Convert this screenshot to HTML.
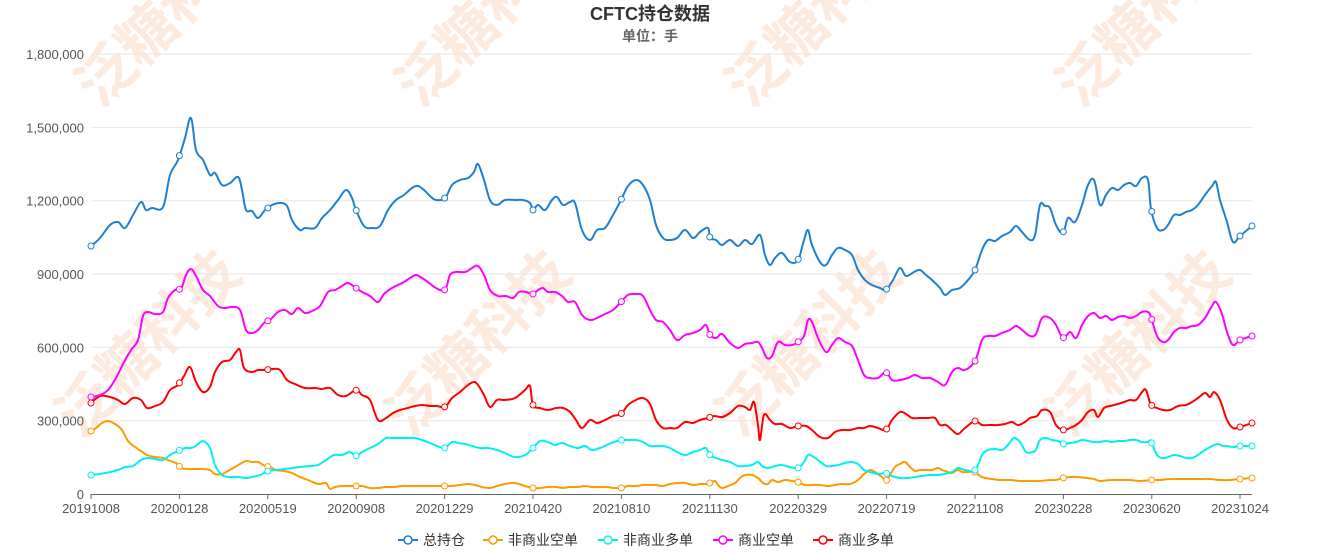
<!DOCTYPE html>
<html><head><meta charset="utf-8">
<style>
html,body{margin:0;padding:0;background:#fff;}
body{width:1339px;height:555px;overflow:hidden;position:relative;font-family:"Liberation Sans","Noto Sans CJK SC",sans-serif;}
svg{position:absolute;left:0;top:0;}
</style></head><body>
<svg id="s" width="1339" height="555" xmlns="http://www.w3.org/2000/svg">
<g font-family="Liberation Sans, Noto Sans CJK SC, sans-serif" fill="#f9d9c4" opacity="0.55" font-size="58" font-weight="bold">
<text transform="translate(100,110) rotate(-45)">泛糖科技</text>
<text transform="translate(420,110) rotate(-45)">泛糖科技</text>
<text transform="translate(750,110) rotate(-45)">泛糖科技</text>
<text transform="translate(1080,110) rotate(-45)">泛糖科技</text>
<text transform="translate(80,440) rotate(-45)">泛糖科技</text>
<text transform="translate(410,440) rotate(-45)">泛糖科技</text>
<text transform="translate(740,440) rotate(-45)">泛糖科技</text>
<text transform="translate(1070,440) rotate(-45)">泛糖科技</text>
</g>
<g id="grid" stroke="#e6e6e6" stroke-width="1"></g>
<line x1="91" y1="494.5" x2="1252" y2="494.5" stroke="#666" stroke-width="1"/>
<g id="ylab" font-size="13" fill="#555" text-anchor="end" font-family="Liberation Sans, sans-serif"></g>
<g id="xlab" font-size="13" fill="#555" text-anchor="middle" font-family="Liberation Sans, sans-serif"></g>
<g id="series"></g>
<text x="650" y="20" text-anchor="middle" font-size="18" font-weight="bold" fill="#333">CFTC持仓数据</text>
<text x="650" y="41" text-anchor="middle" font-size="14" font-weight="bold" fill="#666">单位：手</text>
<g id="legend" font-size="14" fill="#333"></g>
</svg>
<script>
var NS="http://www.w3.org/2000/svg";
function el(t,a,p){var e=document.createElementNS(NS,t);for(var k in a)e.setAttribute(k,a[k]);p.appendChild(e);return e;}
var grid=document.getElementById('grid'),yl=document.getElementById('ylab'),xl=document.getElementById('xlab');
var yv=["0","300,000","600,000","900,000","1,200,000","1,500,000","1,800,000"];
for(var i=0;i<7;i++){var y=494-i*73.33;if(i>0)el('line',{x1:91,x2:1252,y1:y.toFixed(1),y2:y.toFixed(1)},grid);var t=el('text',{x:84,y:y+5},yl);t.textContent=yv[i];}
var xs=["20191008","20200128","20200519","20200908","20201229","20210420","20210810","20211130","20220329","20220719","20221108","20230228","20230620","20231024"];
var tickX=[];for(var i=0;i<14;i++){var x=91+i*88.4;if(i==13)x=1240;tickX.push(x);el('line',{x1:x,x2:x,y1:494,y2:499,stroke:'#666'},grid);var t=el('text',{x:x,y:513},xl);t.textContent=xs[i];}
function P(s){var a=s.trim().split(/;\s*/),r=[];a.forEach(function(p){var q=p.split(',');r.push([+q[0],+q[1]]);});return r;}
var D={
blue:P("91,246; 100,238; 110,225; 118,222; 125,228; 133,215; 141,202; 146,210; 152,208; 163,207; 170,175; 178,160; 185,138; 191,118; 196,150; 203,160; 210,175; 215,173; 222,185; 230,183; 238,177; 242,190; 246,210; 252,211; 258,218; 265,210; 272,205; 280,203; 287,206; 292,220; 300,230; 305,228; 315,228; 322,218; 330,210; 338,200; 346,190; 352,198; 356,210; 364,226; 372,228; 380,226; 388,210; 396,200; 404,195; 412,188; 418,186; 424,190; 430,196; 436,200; 445,198; 452,185; 460,180; 468,178; 474,172; 478,164; 484,180; 490,200; 497,205; 505,200; 515,200; 523,200; 530,203; 533,210; 538,205; 545,210; 552,200; 557,197; 563,205; 570,202; 575,203; 582,230; 590,240; 597,230; 605,228; 613,215; 621,200; 628,186; 636,180; 643,185; 650,200; 656,225; 663,238; 670,240; 677,238; 685,230; 693,238; 700,232; 708,228; 710,238; 716,240; 722,245; 730,240; 738,246; 745,240; 752,244; 760,235; 765,255; 770,265; 775,258; 782,253; 790,262; 798,260; 804,240; 808,230; 812,245; 820,262; 826,265; 832,255; 838,248; 845,250; 852,255; 858,270; 865,280; 872,285; 880,288; 886,290; 893,280; 900,268; 906,276; 914,272; 920,270; 926,275; 932,280; 940,288; 945,295; 952,290; 960,288; 968,280; 975,270; 982,250; 988,240; 995,241; 1002,236; 1010,232; 1016,226; 1022,232; 1030,240; 1035,235; 1040,205; 1045,206; 1050,208; 1056,225; 1063,233; 1068,218; 1075,222; 1082,205; 1088,185; 1094,180; 1100,205; 1106,195; 1112,188; 1118,190; 1124,185; 1130,183; 1136,186; 1142,178; 1148,180; 1151,209; 1157,228; 1163,230; 1168,225; 1174,215; 1180,215; 1186,212; 1192,210; 1198,205; 1205,195; 1212,186; 1216,182; 1220,200; 1227,222; 1233,242; 1240,236; 1252,226"),
mag:P("91,397; 100,395; 108,390; 116,378; 124,362; 131,350; 138,340; 143,316; 148,312; 155,314; 163,312; 168,298; 175,290; 181,289; 186,275; 191,269; 196,276; 203,290; 210,296; 218,306; 225,308; 232,307; 240,310; 246,330; 252,333; 258,330; 265,322; 270,320; 278,312; 285,310; 292,314; 298,308; 305,313; 312,311; 320,306; 328,292; 335,290; 342,286; 348,283; 356,288; 362,292; 370,296; 378,302; 384,294; 392,288; 398,285; 404,282; 410,278; 416,275; 422,278; 428,282; 436,288; 445,290; 450,275; 456,272; 465,272; 472,268; 478,266; 484,275; 490,290; 498,296; 506,296; 513,298; 519,292; 526,292; 533,294; 538,290; 543,288; 548,292; 555,292; 562,296; 568,302; 575,302; 582,315; 590,320; 597,318; 605,314; 613,310; 621,302; 628,295; 636,294; 643,296; 650,310; 656,320; 663,322; 670,330; 677,340; 685,335; 693,333; 700,330; 706,325; 710,335; 716,338; 722,334; 730,343; 738,348; 745,344; 752,343; 758,342; 762,348; 767,358; 772,356; 778,342; 785,345; 792,345; 798,342; 804,336; 808,320; 812,322; 818,338; 826,352; 832,345; 838,338; 845,342; 852,346; 858,360; 864,375; 870,378; 878,378; 886,372; 892,380; 900,380; 908,378; 915,375; 922,378; 930,378; 938,382; 945,385; 952,372; 958,368; 965,370; 975,361; 982,340; 988,336; 995,336; 1002,333; 1010,330; 1016,326; 1022,330; 1030,336; 1036,334; 1042,318; 1050,318; 1056,325; 1063,338; 1070,332; 1076,338; 1082,325; 1088,316; 1094,313; 1100,318; 1106,316; 1112,320; 1118,317; 1124,316; 1130,318; 1136,316; 1142,312; 1148,312; 1151,317; 1157,336; 1163,342; 1168,340; 1174,332; 1180,328; 1186,328; 1192,326; 1198,325; 1205,318; 1212,306; 1216,302; 1222,314; 1227,332; 1233,345; 1240,340; 1252,336"),
red:P("91,403; 100,396; 110,397; 118,400; 125,404; 133,398; 141,400; 147,408; 155,406; 163,402; 170,390; 178,385; 184,376; 190,367; 196,382; 203,392; 210,387; 215,372; 222,362; 230,360; 236,352; 240,350; 244,368; 252,372; 258,370; 265,370; 272,369; 280,370; 287,380; 295,384; 305,388; 315,388; 322,389; 330,388; 338,395; 346,396; 356,390; 362,395; 370,400; 378,420; 386,418; 393,413; 400,410; 408,408; 415,406; 422,405; 430,406; 437,406; 445,407; 452,398; 460,392; 468,385; 474,382; 478,385; 484,395; 490,407; 497,400; 505,400; 515,398; 525,390; 530,386; 533,405; 540,408; 548,410; 556,408; 563,408; 570,412; 576,420; 582,428; 590,420; 597,423; 605,420; 613,416; 621,414; 628,405; 636,400; 643,398; 650,404; 656,420; 663,428; 670,428; 677,428; 685,422; 693,423; 700,420; 708,418; 714,416; 722,417; 730,413; 738,406; 745,407; 750,410; 754,402; 758,425; 760,440; 764,415; 770,420; 775,424; 782,424; 790,428; 798,426; 806,426; 812,430; 820,437; 828,438; 835,432; 842,430; 850,430; 858,428; 864,428; 870,426; 878,428; 886,430; 892,420; 900,412; 906,414; 912,418; 920,418; 928,418; 935,418; 940,425; 946,425; 952,430; 958,434; 965,428; 975,421; 982,425; 990,425; 998,425; 1005,424; 1012,422; 1018,425; 1025,422; 1030,418; 1037,416; 1042,410; 1050,412; 1056,425; 1063,430; 1070,428; 1076,425; 1082,420; 1088,412; 1094,410; 1098,417; 1104,408; 1110,406; 1118,404; 1124,402; 1130,400; 1136,400; 1142,392; 1146,390; 1151,405; 1157,408; 1163,410; 1170,410; 1178,406; 1186,405; 1192,402; 1198,398; 1205,393; 1210,397; 1214,392; 1220,400; 1227,420; 1233,428; 1240,427; 1252,423"),
cyan:P("91,475; 100,474; 110,472; 118,470; 125,467; 133,466; 141,460; 147,458; 155,459; 163,460; 170,455; 178,451; 185,448; 191,448; 196,446; 203,441; 210,448; 215,465; 222,475; 230,477; 238,477; 246,478; 252,477; 260,475; 268,471; 276,470; 285,469; 292,468; 300,467; 310,466; 318,465; 326,460; 334,455; 342,455; 350,452; 356,456; 362,452; 370,448; 378,444; 386,438; 392,438; 400,438; 408,438; 415,438; 422,440; 430,443; 437,446; 445,448; 452,442; 458,443; 465,444; 472,446; 480,448; 488,448; 497,450; 505,453; 515,457; 525,455; 533,448; 540,441; 548,442; 555,445; 562,443; 570,446; 578,448; 585,446; 592,450; 600,448; 607,445; 614,442; 621,440; 628,440; 636,440; 643,442; 650,446; 656,446; 663,446; 670,448; 677,452; 685,455; 693,452; 700,450; 706,448; 710,455; 716,458; 722,460; 730,462; 738,466; 745,466; 752,465; 758,462; 762,466; 768,468; 775,466; 782,465; 790,467; 798,468; 804,462; 808,455; 812,456; 818,460; 826,466; 832,466; 838,465; 845,463; 852,462; 858,464; 864,470; 870,472; 878,474; 886,473; 892,476; 900,478; 908,478; 915,477; 922,476; 930,475; 938,475; 945,474; 952,472; 958,468; 965,470; 975,470; 982,455; 988,450; 995,449; 1002,450; 1008,445; 1014,438; 1020,442; 1026,452; 1032,452; 1036,450; 1040,440; 1046,438; 1052,440; 1058,441; 1063,444; 1070,443; 1076,442; 1082,440; 1088,441; 1094,442; 1100,442; 1106,441; 1112,442; 1118,441; 1124,441; 1130,440; 1136,440; 1142,442; 1148,442; 1151,441; 1157,455; 1163,458; 1168,457; 1174,455; 1180,456; 1186,458; 1192,458; 1198,455; 1205,450; 1212,446; 1218,444; 1223,446; 1227,446; 1233,447; 1240,446; 1252,446"),
orange:P("91,431; 96,428; 102,423; 108,421; 115,424; 122,430; 128,441; 135,447; 141,451; 147,455; 155,457; 163,458; 170,461; 176,463; 181,468; 188,469; 196,469; 203,469; 210,470; 215,474; 222,474; 228,471; 235,467; 240,464; 246,461; 252,462; 258,462; 265,466; 270,467; 276,470; 284,471; 292,473; 300,477; 308,480; 315,483; 320,484; 326,483; 330,489; 335,487; 342,486; 350,486; 356,486; 362,486; 370,488; 378,488; 386,487; 394,487; 402,486; 410,486; 418,486; 426,486; 434,486; 445,486; 452,486; 460,485; 468,484; 475,485; 482,487; 490,488; 497,486; 505,484; 515,483; 525,486; 533,488; 540,488; 548,487; 556,487; 563,488; 570,487; 578,487; 585,486; 592,487; 600,487; 607,487; 614,488; 621,488; 628,486; 636,486; 643,485; 650,485; 656,485; 663,486; 670,484; 677,483; 685,483; 693,485; 700,484; 706,484; 710,483; 715,481; 718,485; 722,488; 728,486; 735,483; 740,478; 745,475; 752,475; 758,478; 763,483; 768,484; 772,480; 778,482; 785,480; 792,481; 798,482; 805,485; 812,485; 820,485; 828,486; 835,485; 842,484; 850,484; 858,480; 864,474; 870,470; 875,472; 878,474; 883,478; 886,481; 890,475; 895,467; 900,464; 905,462; 910,467; 915,471; 920,470; 926,470; 932,470; 938,468; 942,470; 948,472; 952,473; 958,470; 962,472; 968,472; 975,472; 980,476; 985,478; 992,479; 1000,480; 1010,480; 1020,481; 1030,481; 1040,481; 1050,480; 1056,480; 1063,478; 1070,477; 1078,477; 1086,478; 1094,479; 1100,481; 1110,480; 1120,480; 1130,480; 1140,481; 1151,480; 1160,480; 1170,479; 1180,479; 1190,479; 1200,479; 1210,479; 1220,480; 1230,480; 1240,479; 1252,478")
};
function smooth(p){var d="M"+p[0][0]+","+p[0][1];for(var i=0;i<p.length-1;i++){var p0=p[i-1]||p[i],p1=p[i],p2=p[i+1],p3=p[i+2]||p2;var t=0.18;
d+=" C"+(p1[0]+(p2[0]-p0[0])*t).toFixed(1)+","+(p1[1]+(p2[1]-p0[1])*t).toFixed(1)+" "+(p2[0]-(p3[0]-p1[0])*t).toFixed(1)+","+(p2[1]-(p3[1]-p1[1])*t).toFixed(1)+" "+p2[0]+","+p2[1];}return d;}
function yAt(p,x){for(var i=0;i<p.length-1;i++){if(x>=p[i][0]&&x<=p[i+1][0]){var f=(x-p[i][0])/(p[i+1][0]-p[i][0]||1);return p[i][1]+f*(p[i+1][1]-p[i][1]);}}return p[p.length-1][1];}
var g=document.getElementById('series');
var order=[["orange","#ff9900"],["cyan","#00f0f0"],["red","#ff0000"],["mag","#ff00ff"],["blue","#1f7fd0"]];
var mx=tickX.concat([1252]);
order.forEach(function(o){var p=D[o[0]];el('path',{d:smooth(p),fill:'none',stroke:o[1],'stroke-width':2},g);
mx.forEach(function(x){el('circle',{cx:x,cy:yAt(p,x).toFixed(1),r:3,fill:'#fff',stroke:o[1],'stroke-width':1},g);});});
var lg=document.getElementById('legend');
var L=[["总持仓","#1f7fd0",398],["非商业空单","#ff9900",483],["非商业多单","#00f0f0",598],["商业空单","#ff00ff",713],["商业多单","#ff0000",813]];
L.forEach(function(l){el('line',{x1:l[2],x2:l[2]+20,y1:540,y2:540,stroke:l[1],'stroke-width':2},lg);el('circle',{cx:l[2]+10,cy:540,r:4,fill:'#fff',stroke:l[1],'stroke-width':1.5},lg);var t=el('text',{x:l[2]+25,y:545},lg);t.textContent=l[0];});
</script>
</body></html>
